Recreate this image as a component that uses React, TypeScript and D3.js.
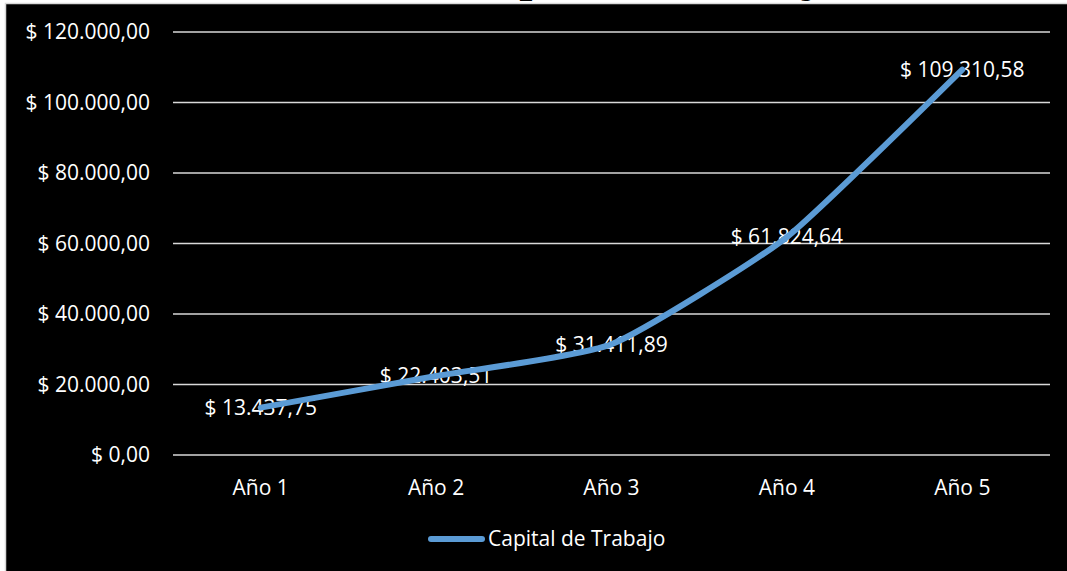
import React from "react";
import * as d3 from "d3";

const categories = ["Año 1", "Año 2", "Año 3", "Año 4", "Año 5"];
const values = [13437.75, 22403.51, 31411.89, 61824.64, 109310.58];
const yTicks = [0, 20000, 40000, 60000, 80000, 100000, 120000];
const seriesName = "Capital de Trabajo";

const W = 1067;
const H = 571;
const FONT = "'Open Sans', 'Noto Sans', sans-serif";
const FS = 21;

const fmt = (v: number) => {
  const s = v.toFixed(2);
  const [int, dec] = s.split(".");
  const withDots = int.replace(/\B(?=(\d{3})+(?!\d))/g, ".");
  return "$ " + withDots + "," + dec;
};

export default function App() {
  const x = d3.scaleBand<string>().domain(categories).range([173, 1050]);
  const y = d3.scaleLinear().domain([0, 120000]).range([455, 32]);
  const pts: [number, number][] = values.map((v, i) => [
    (x(categories[i]) as number) + x.bandwidth() / 2,
    y(v),
  ]);
  const line = d3.line<[number, number]>().curve(d3.curveCardinal.tension(0.5));
  const path = line(pts) || "";

  return (
    <svg
      width={W}
      height={H}
      style={{ position: "absolute", left: 0, top: 0, background: "#fff" }}
    >
      <text
        x={W / 2 + 118}
        y={-9}
        textAnchor="middle"
        fontFamily="'Liberation Serif', serif"
        fontWeight="bold"
        fontSize={47}
        fill="#000"
      >
        {seriesName}
      </text>
      <rect x={5.5} y={3.5} width={W} height={H} fill="#000" stroke="#d9d9d9" strokeWidth={1.5} />
      {yTicks.map((t) => (
        <g key={t}>
          <line x1={173} x2={1050} y1={y(t)} y2={y(t)} stroke="#d9d9d9" strokeWidth={1.5} />
          <text
            x={150}
            y={y(t)}
            dy="0.35em"
            textAnchor="end"
            fontFamily={FONT}
            fontSize={FS}
            fill="#fff"
          >
            {fmt(t)}
          </text>
        </g>
      ))}
      {categories.map((c) => (
        <text
          key={c}
          x={(x(c) as number) + x.bandwidth() / 2}
          y={488}
          dy="0.35em"
          textAnchor="middle"
          fontFamily={FONT}
          fontSize={FS}
          fill="#fff"
        >
          {c}
        </text>
      ))}
      {pts.map((p, i) => (
        <text
          key={i}
          x={p[0]}
          y={p[1]}
          dy="0.35em"
          textAnchor="middle"
          fontFamily={FONT}
          fontSize={FS}
          fill="#fff"
        >
          {fmt(values[i])}
        </text>
      ))}
      <path d={path} fill="none" stroke="#5b9bd5" strokeWidth={6} strokeLinecap="round" strokeLinejoin="round" />
      <line x1={431} x2={482} y1={539} y2={539} stroke="#5b9bd5" strokeWidth={6} strokeLinecap="round" />
      <text x={488} y={539} dy="0.35em" fontFamily={FONT} fontSize={FS} fill="#fff">
        {seriesName}
      </text>
    </svg>
  );
}
